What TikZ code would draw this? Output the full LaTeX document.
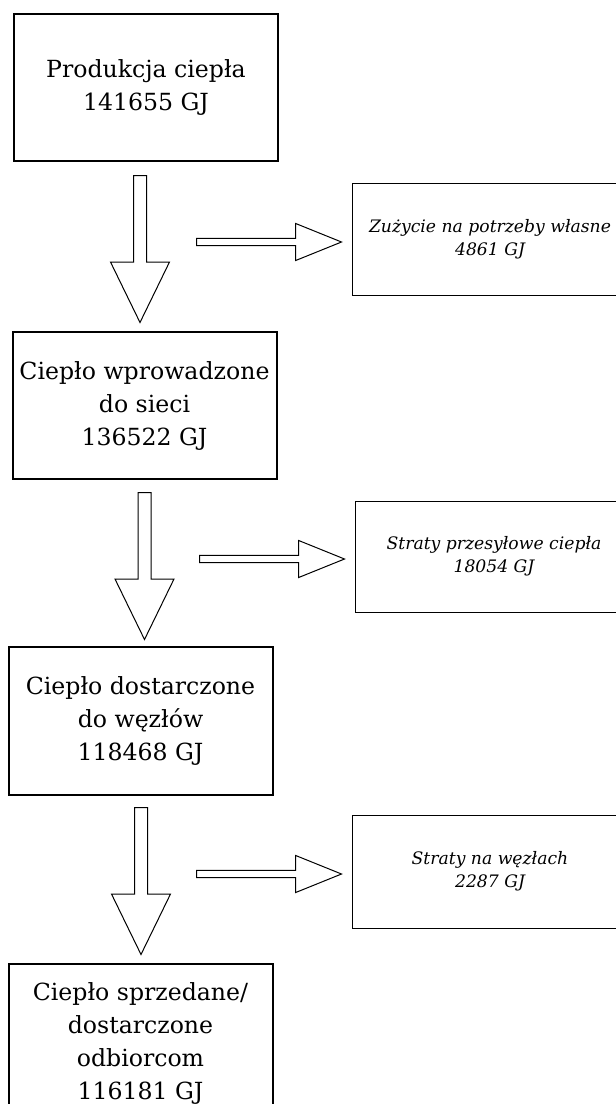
\documentclass[tikz,border=0pt]{standalone}
\usepackage{fontspec}
\setmainfont{DejaVu Serif}
\usetikzlibrary{shapes.arrows}

\tikzset{
  blok/.style={draw, line width=1pt, align=center, inner sep=2pt, minimum width=132pt,
    font=\fontsize{11.8}{16.5}\selectfont},
  strata/.style={draw, line width=0.5pt, align=center, minimum width=138pt,
    font=\fontsize{8.6}{11.5}\selectfont\itshape},
  strzalkadol/.style={single arrow, draw, line width=0.5pt, inner xsep=0pt, inner ysep=3pt,
    minimum height=73.5pt, single arrow head extend=11.5pt, single arrow tip angle=52,
    rotate=-90, anchor=tail},
  strzalkabok/.style={single arrow, draw, line width=0.5pt, inner xsep=0pt, inner ysep=1.6pt,
    minimum height=72.5pt, single arrow head extend=7.4pt, single arrow tip angle=44,
    anchor=tail},
}

\begin{document}
\begin{tikzpicture}[x=0.5pt, y=-0.5pt]
\useasboundingbox (0,0) rectangle (616,1104);
\clip (0,0) rectangle (616,1104);

\node[blok, minimum height=73.5pt] (produkcja) at (146,87.5) {Produkcja ciepła\\141655 GJ};
\node[blok, minimum height=73.5pt] (wprowadzone) at (144.5,405.5) {Ciepło wprowadzone\\do sieci\\136522 GJ};
\node[blok, minimum height=74pt] (dostarczone) at (140.5,721) {Ciepło dostarczone\\do węzłów\\118468 GJ};
\node[blok, minimum height=79pt] (sprzedane) at (140.5,1043) {Ciepło sprzedane/\\dostarczone\\odbiorcom\\116181 GJ};

\node[strata, minimum height=56pt] (wlasne) at (490,239) {Zużycie na potrzeby własne\\4861 GJ};
\node[strata, minimum height=55.5pt, minimum width=139pt] (przesyl) at (494,556.5) {Straty przesyłowe ciepła\\18054 GJ};
\node[strata, minimum height=56.5pt] (wezly) at (490,871.5) {Straty na węzłach\\2287 GJ};

\node[strzalkadol] (dol1) at (140,175) {};
\node[strzalkadol] (dol2) at (144.5,492) {};
\node[strzalkadol] (dol3) at (141,807) {};

\node[strzalkabok] (bok1) at (196,242) {};
\node[strzalkabok] (bok2) at (199,559) {};
\node[strzalkabok] (bok3) at (196,874) {};
\end{tikzpicture}
\end{document}
